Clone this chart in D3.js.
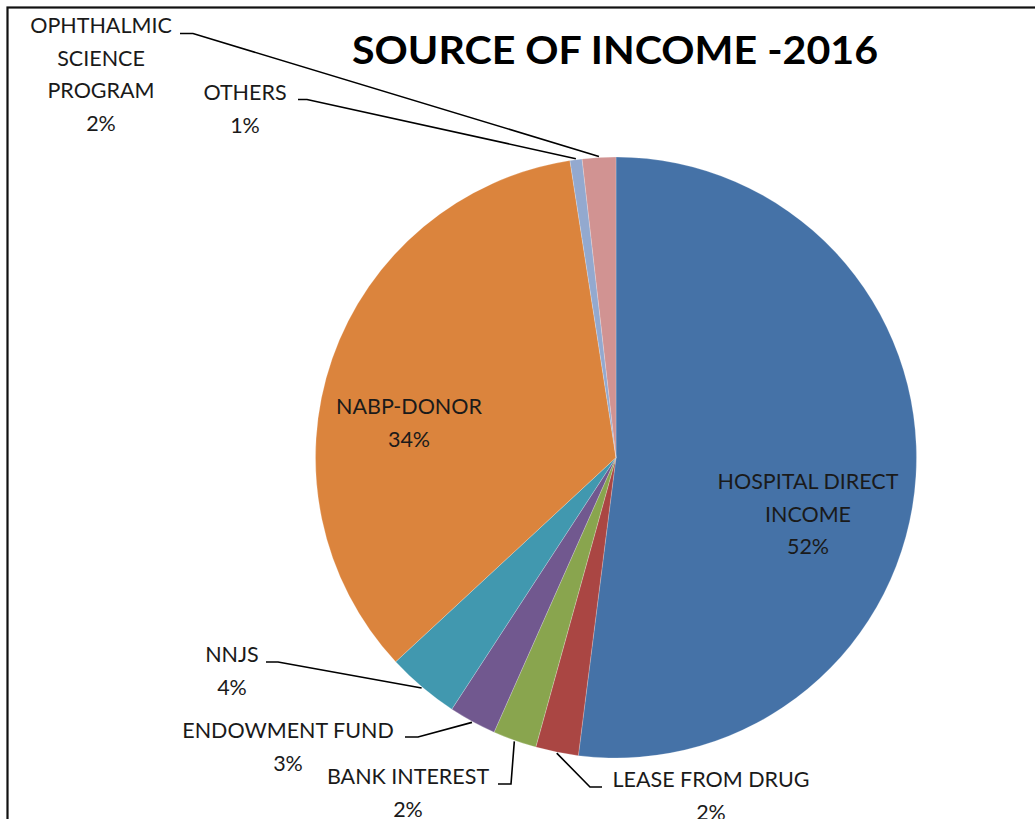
<!DOCTYPE html>
<html><head><meta charset="utf-8">
<script src="https://cdn.jsdelivr.net/npm/d3@7"></script>
<style>
html,body{margin:0;padding:0;background:#fff;overflow:hidden;}
svg{display:block;}
</style></head>
<body>
<svg id="chart" width="1035" height="819"></svg>
<script>
// ---- data ----
const categories = ["HOSPITAL DIRECT INCOME","LEASE FROM DRUG","BANK INTEREST","ENDOWMENT FUND","NNJS","NABP-DONOR","OTHERS","OPHTHALMIC SCIENCE PROGRAM"];
const values = [52.0, 2.3, 2.35, 2.55, 3.9, 34.45, 0.65, 1.8];
const colors = ["#4572A7","#AA4643","#89A54E","#71588F","#4198AF","#DB843D","#93A9CF","#D19392"];
const labelLines = [["HOSPITAL DIRECT","INCOME"],["LEASE FROM DRUG"],["BANK INTEREST"],["ENDOWMENT FUND"],["NNJS"],["NABP-DONOR"],["OTHERS"],["OPHTHALMIC","SCIENCE","PROGRAM"]];
const title = "SOURCE OF INCOME -2016";

// ---- layout ----
const W = 1035, H = 819;
const cx = 616, cy = 457.5, R = 300.5;
const lineH = 32.5;
const FONT = "Lato, 'DejaVu Sans', sans-serif";
// label layout: center x, first baseline y, leader line label-side points (null = inside label)
const labelLayout = [
  {x: 808, y: 489, leader: null},
  {x: 711, y: 787, leader: [[602,787],[590,787]]},
  {x: 408, y: 784, leader: [[498,784],[511,784]]},
  {x: 288, y: 738, leader: [[405,737],[418,737]]},
  {x: 232, y: 662, leader: [[266,662],[278,662]]},
  {x: 409, y: 414, leader: null},
  {x: 245, y: 100, leader: [[298,99.5],[307,99.5]]},
  {x: 101, y: 33, leader: [[180,33.5],[193,33.5]]}
];

const svg = d3.select("#chart");
svg.append("rect").attr("width", W).attr("height", H).attr("fill", "#fff");
// frame
svg.append("rect").attr("x", 7.5).attr("y", 7.5).attr("width", W + 50).attr("height", H + 50)
  .attr("fill", "none").attr("stroke", "#111").attr("stroke-width", 2.2);

// title
svg.append("text").attr("x", 615).attr("y", 64).attr("text-anchor", "middle")
  .attr("font-family", FONT).attr("font-weight", "bold").attr("font-size", 38)
  .attr("textLength", 526).attr("lengthAdjust", "spacingAndGlyphs")
  .attr("fill", "#000").text(title);

const total = d3.sum(values);
const pie = d3.pie().sort(null).value(d => d)(values);
const arc = d3.arc().innerRadius(0).outerRadius(R);
const g = svg.append("g").attr("transform", `translate(${cx},${cy})`);
g.selectAll("path").data(pie).join("path")
  .attr("d", arc).attr("fill", (d, i) => colors[i])
  .attr("stroke", "rgba(255,255,255,0.35)").attr("stroke-width", 0.6);

// leader lines
pie.forEach((d, i) => {
  const L = labelLayout[i];
  if (!L.leader) return;
  const a = (d.startAngle + d.endAngle) / 2;
  const px = cx + Math.sin(a) * (R + 1), py = cy - Math.cos(a) * (R + 1);
  const pts = [...L.leader, [px, py]];
  svg.append("path").attr("d", d3.line()(pts)).attr("fill", "none")
    .attr("stroke", "#000").attr("stroke-width", 1.6);
});

// labels
pie.forEach((d, i) => {
  const L = labelLayout[i];
  const pct = Math.round(values[i] / total * 100) + "%";
  const lines = [...labelLines[i], pct];
  const t = svg.append("text").attr("text-anchor", "middle")
    .attr("font-family", FONT).attr("font-size", 21.5).attr("fill", "#1a1a1a");
  lines.forEach((s, k) => {
    t.append("tspan").attr("x", L.x).attr("y", L.y + k * lineH).text(s);
  });
});
</script>
</body></html>
